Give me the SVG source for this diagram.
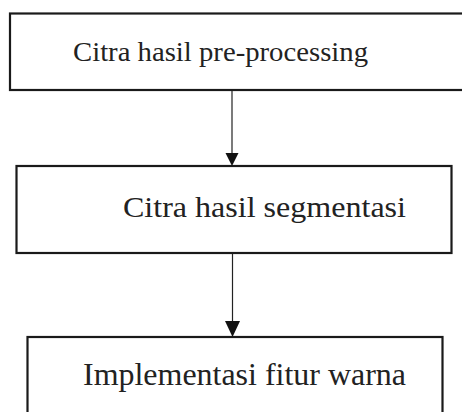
<svg xmlns="http://www.w3.org/2000/svg" width="462" height="412" viewBox="0 0 462 412">
<style>
.box{fill:#fff;stroke:#1a1a1a;stroke-width:2.2}
.lbl{font-family:"Liberation Serif","Times New Roman",serif;fill:#222;font-size:28px}
.conn line{stroke:#222;stroke-width:1.2}
.conn polygon{fill:#111}
</style>
<rect width="462" height="412" fill="#fff"/>
<g id="node1">
<rect class="box" x="10" y="13.5" width="462" height="76.5"/>
<text class="lbl" x="73" y="61" textLength="295" lengthAdjust="spacingAndGlyphs">Citra hasil pre-processing</text>
</g>
<g id="node2">
<rect class="box" x="16.5" y="166" width="435" height="87"/>
<text class="lbl" x="123" y="217" style="font-size:30px" textLength="283" lengthAdjust="spacingAndGlyphs">Citra hasil segmentasi</text>
</g>
<g id="node3">
<rect class="box" x="27.5" y="337" width="415" height="90"/>
<text class="lbl" x="83" y="385" style="font-size:32px" textLength="323" lengthAdjust="spacingAndGlyphs">Implementasi fitur warna</text>
</g>
<g id="connectors" class="conn">
<line x1="232" y1="91" x2="232" y2="155"/>
<polygon points="225.5,153 238.5,153 232,166"/>
<line x1="232.5" y1="254" x2="232.5" y2="322"/>
<polygon points="225,321 240,321 232.5,337"/>
</g>
</svg>
